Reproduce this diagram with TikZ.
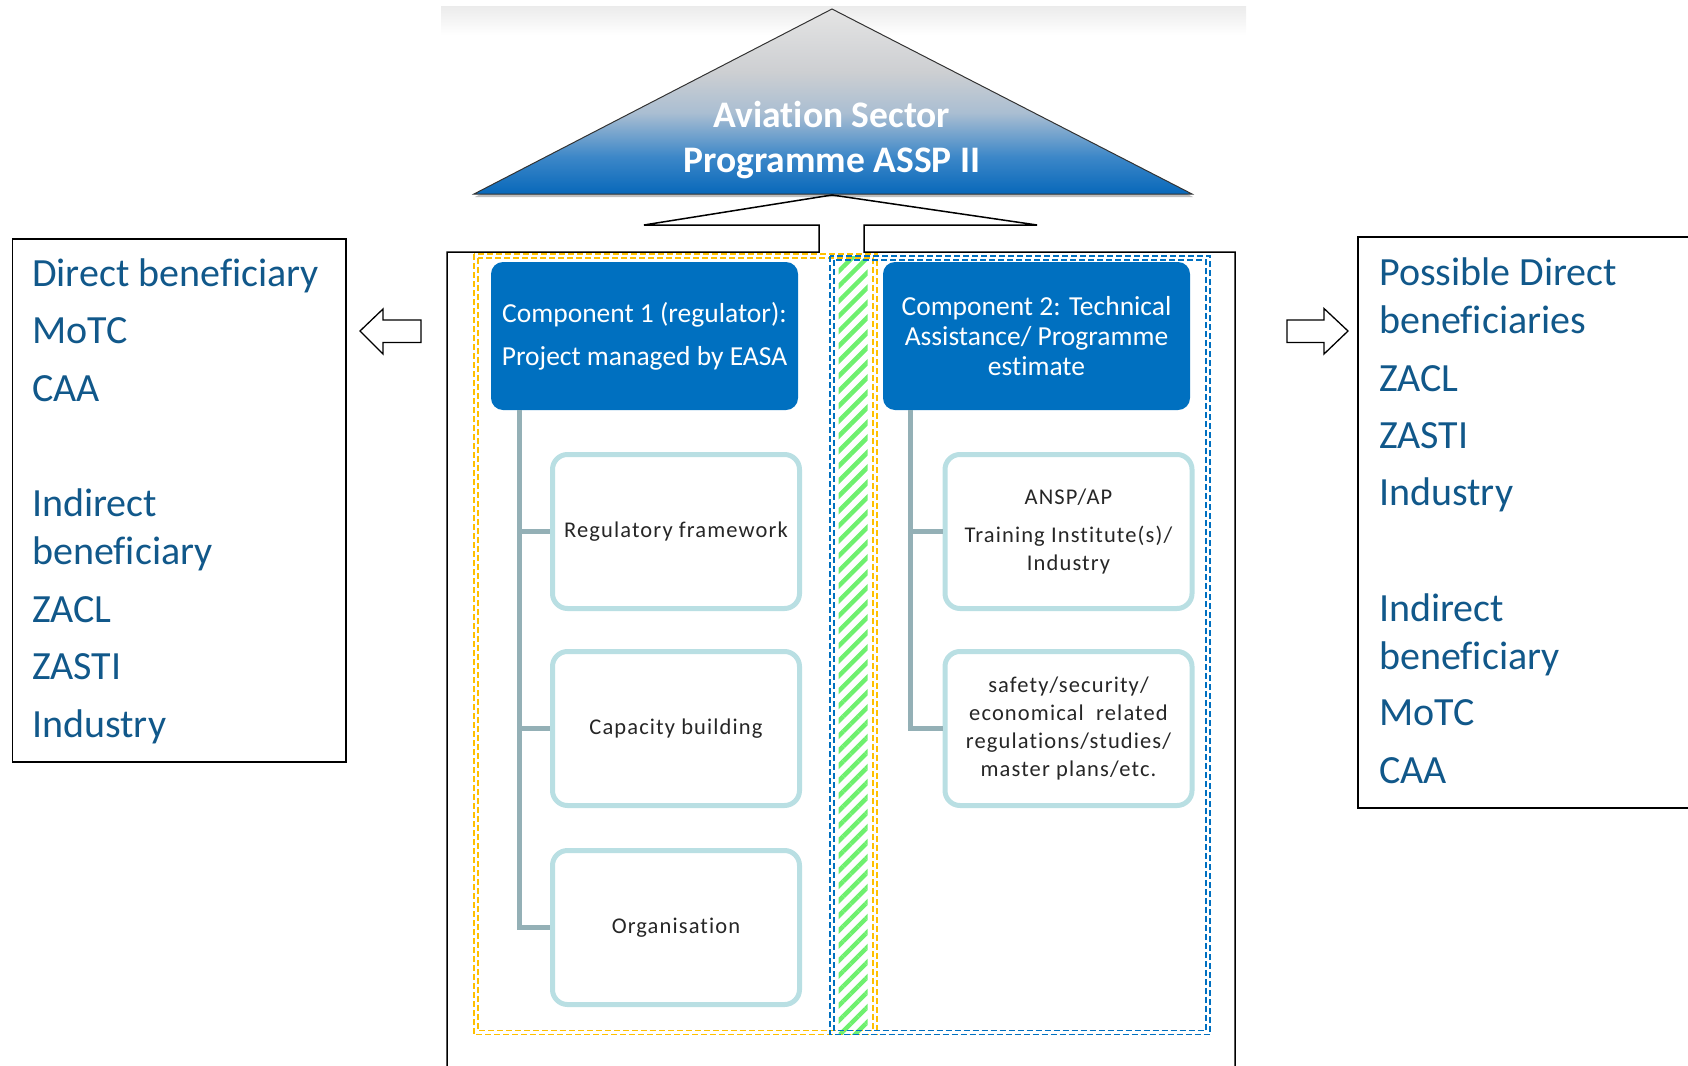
\documentclass[tikz,border=0pt]{standalone}
\usepackage{fontspec}
\setmainfont[Ligatures=NoCommon]{Carlito}
\newfontfamily\childfont[LetterSpace=5, Ligatures=NoCommon]{Carlito}
\usetikzlibrary{positioning, patterns.meta, shadows}

\definecolor{compblue}{RGB}{0,112,192}
\definecolor{benefblue}{RGB}{17,88,138}
\definecolor{trunkgray}{RGB}{148,176,182}
\definecolor{childline}{RGB}{185,223,227}
\definecolor{hatchgreen}{RGB}{110,240,110}
\definecolor{dashyellow}{RGB}{255,192,0}
\definecolor{roofblue}{RGB}{8,104,186}
\definecolor{roofmid}{RGB}{60,135,200}
\definecolor{rooflight}{RGB}{170,190,210}
\definecolor{roofgray}{RGB}{205,207,210}
\definecolor{rooftop}{RGB}{228,228,228}

\pgfdeclareverticalshading{roofgrad}{100bp}{color(0bp)=(roofblue); color(25bp)=(roofblue); color(35bp)=(roofmid); color(47bp)=(rooflight); color(58bp)=(roofgray); color(75bp)=(rooftop); color(100bp)=(rooftop)}

\tikzset{
    comp/.style={fill=compblue, rounded corners=12pt, minimum width=307pt, minimum height=148pt,
        text=white, align=center, inner sep=0pt},
    child/.style={draw=childline, line width=5pt, rounded corners=15pt, minimum width=247pt,
        minimum height=154pt, align=center, inner sep=0pt, text=black!85,
        font=\childfont\fontsize{22.5}{27.7}\selectfont},
    trunk/.style={draw=trunkgray, line width=5pt},
    dashbox/.style={line width=1.7pt, dash pattern=on 6pt off 3pt},
    sidebox/.style={line width=1.8pt},
    benef/.style={text=benefblue, align=left, inner sep=0pt, anchor=north west}
}

\begin{document}
\begin{tikzpicture}[x=1pt, y=-1pt]
    \useasboundingbox (0,0) rectangle (1688,1065);

    % roof
    \shade[top color=gray!15, bottom color=white] (441,7) rectangle (1246,35);
    \shadedraw[shading=roofgrad, draw=black!80, line width=1pt,
        drop shadow={shadow xshift=1pt, shadow yshift=-3pt, opacity=.5}]
        (832,9) -- (474,194) -- (1192,194) -- cycle;
    \node[text=white, align=center, font=\bfseries\fontsize{37.5}{45}\selectfont] (title) at (832,140)
        {Aviation Sector\\Programme ASSP II};

    % house
    \fill[pattern={Lines[angle=45, distance=10.6pt, line width=4.5pt]}, pattern color=hatchgreen]
        (838.6,256) rectangle (867.7,1034.5);
    \draw[dashbox, dashyellow] (473.7,254) rectangle (877.3,1034.5);
    \draw[dashbox, dashyellow] (477.7,258) rectangle (873.3,1030.5);
    \draw[dashbox, compblue] (830,256) rectangle (1210,1034.5);
    \draw[dashbox, compblue] (834,260) rectangle (1206,1030.5);
    \draw[line width=1.5pt] (447,1070) -- (447,252) -- (819,252) -- (819,225) -- (644,225)
        -- (832,195) -- (1037,225) -- (864,225) -- (864,252) -- (1235,252) -- (1235,1070);

    % components
    \node[comp, font=\fontsize{27.5}{43}\selectfont] (comp1) at (644.5,336)
        {Component 1 (regulator):\\Project managed by EASA};
    \node[comp, font=\fontsize{27.5}{30}\selectfont] (comp2) at (1036.5,336)
        {Component 2: Technical\\Assistance/ Programme\\estimate};

    \node[child] (reg) at (676,531.5) {Regulatory framework};
    \node[child, below=38pt of reg] (cap) {Capacity building};
    \node[child, below=40pt of cap] (org) {Organisation};
    \node[child] (ansp) at (1068.5,531.5) {ANSP/AP\\[10pt]Training Institute(s)/\\Industry};
    \node[child, below=38pt of ansp] (regs)
        {safety/security/\\economical\ \ related\\regulations/studies/\\master plans/etc.};

    \coordinate (trunkL) at ([xshift=-31pt]reg.west |- comp1.south);
    \draw[trunk] (trunkL) |- (org.west);
    \draw[trunk] (trunkL |- reg.west) -- (reg.west);
    \draw[trunk] (trunkL |- cap.west) -- (cap.west);
    \coordinate (trunkR) at ([xshift=-32pt]ansp.west |- comp2.south);
    \draw[trunk] (trunkR) |- (regs.west);
    \draw[trunk] (trunkR |- ansp.west) -- (ansp.west);

    % beneficiaries
    \draw[sidebox] (12.5,239) rectangle (346,762);
    \node[benef, font=\fontsize{40}{48.5}\selectfont] (direct) at (32,258.5)
        {Direct beneficiary\\[9pt]MoTC\\[9pt]CAA\\[66.5pt]Indirect\\beneficiary\\[9pt]ZACL\\[9pt]ZASTI\\[9pt]Industry};
    \draw[sidebox] (1700,237) -- (1358,237) -- (1358,808) -- (1700,808);
    \node[benef, font=\fontsize{40}{48}\selectfont] (possible) at (1379,257.5)
        {Possible Direct\\beneficiaries\\[10pt]ZACL\\[9pt]ZASTI\\[9pt]Industry\\[68pt]Indirect\\beneficiary\\[8pt]MoTC\\[10pt]CAA};

    \draw[line width=1.3pt, fill=white] (421,320) -- (383,320) -- (383,309) -- (360,331)
        -- (383,354) -- (383,342.5) -- (421,342.5) -- cycle;
    \draw[line width=1.3pt, fill=white] (1287,320) -- (1324,320) -- (1324,308.5) -- (1348,331)
        -- (1324,354) -- (1324,342.5) -- (1287,342.5) -- cycle;
\end{tikzpicture}
\end{document}
